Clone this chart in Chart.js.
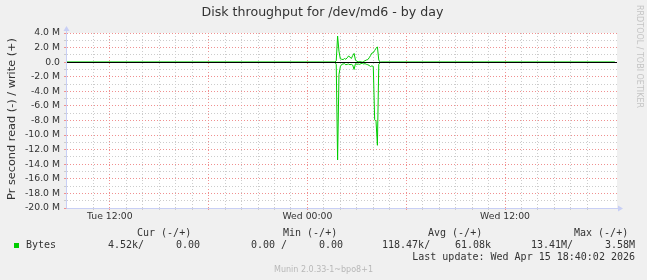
<!DOCTYPE html>
<html>
<head>
<meta charset="utf-8">
<script src="https://cdn.jsdelivr.net/npm/chart.js@4.4.1/dist/chart.umd.min.js"></script>
<style>
  html, body { margin: 0; padding: 0; background: #f0f0f0; }
  #chart { display: block; }
</style>
</head>
<body>
<canvas id="chart" width="647" height="280"></canvas>
<script>
// samples, minutes relative to Wed 00:00 (5 min steps around the burst)
const sampleMinutes = [-876, 100, 105, 110, 115, 120, 125, 130, 135, 140, 145, 150, 155, 160, 165, 170, 175, 180, 185, 190, 195, 200, 205, 210, 215, 220, 225, 230, 235, 240, 245, 250, 255, 260, 265, 270, 1120]
// bytes per second, in M
const writeMB = [0, 0, 0.2, 3.58, 1.5, 0.45, 0.4, 0.35, 0.5, 0.4, 0.6, 0.85, 0.7, 0.5, 0.9, 1.2, 0.3, 0.1, 0.05, 0.1, 0.05, 0, 0.1, 0.2, 0.3, 0.35, 0.6, 0.9, 1.25, 1.3, 1.6, 1.9, 2.1, 0.3, 0, 0, 0]
const readMB = [0, 0, -0.3, -13.41, -1.7, -0.6, -0.3, -0.25, -0.2, -0.35, -0.3, -0.25, -0.35, -0.3, -0.4, -1.0, -0.2, -0.3, -0.25, -0.3, -0.2, -0.15, -0.25, -0.2, -0.3, -0.35, -0.45, -0.6, -0.5, -0.6, -7.9, -8.1, -11.4, -0.3, -0.05, 0, 0]

const xTickHours = [-12, 0, 12]
const xTickLabels = ['Tue 12:00', 'Wed 00:00', 'Wed 12:00']

const statHeaders = ['Cur (-/+)', 'Min (-/+)', 'Avg (-/+)', 'Max (-/+)']
const statValues = ['4.52k/', '0.00', '0.00 /', '0.00', '118.47k/', '61.08k', '13.41M/', '3.58M']
const seriesName = 'Bytes'
const lastUpdate = 'Last update: Wed Apr 15 18:40:02 2026'

const GREEN = '#00cc00'
const AXIS = '#c8cff5'
const GRID_MINOR = '#cccccc'
const GRID_MAJOR = '#f09090'

const toPoints = (values) => sampleMinutes.map((m, i) => ({ x: m / 60, y: values[i] * 1e6 }))

const muninPlugin = {
  id: 'munin',
  beforeDraw(chart) {
    const { ctx, chartArea: a } = chart
    ctx.save()
    ctx.fillStyle = '#f0f0f0'
    ctx.fillRect(0, 0, chart.width, chart.height)
    ctx.fillStyle = '#ffffff'
    ctx.fillRect(a.left, a.top, a.right - a.left, a.bottom - a.top)
    ctx.restore()
  },
  afterDatasetsDraw(chart) {
    const { ctx, chartArea: a, scales } = chart
    const y0 = Math.round(scales.y.getPixelForValue(0)) + 0.5
    ctx.save()
    // zero rule
    ctx.strokeStyle = '#000000'
    ctx.lineWidth = 1
    ctx.beginPath()
    ctx.moveTo(a.left, y0)
    ctx.lineTo(a.right, y0)
    ctx.stroke()
    // axes with arrows
    const xl = Math.round(a.left) - 0.5
    const yb = Math.round(a.bottom) + 0.5
    ctx.strokeStyle = AXIS
    ctx.beginPath()
    ctx.moveTo(xl, yb)
    ctx.lineTo(xl, a.top - 4)
    ctx.moveTo(xl, yb)
    ctx.lineTo(a.right + 3, yb)
    ctx.stroke()
    ctx.fillStyle = AXIS
    ctx.beginPath()
    ctx.moveTo(xl - 3, a.top - 2)
    ctx.lineTo(xl + 3, a.top - 2)
    ctx.lineTo(xl, a.top - 7)
    ctx.closePath()
    ctx.fill()
    ctx.beginPath()
    ctx.moveTo(a.right + 1, yb - 3)
    ctx.lineTo(a.right + 1, yb + 3)
    ctx.lineTo(a.right + 6, yb)
    ctx.closePath()
    ctx.fill()
    ctx.restore()
  },
  afterDraw(chart) {
    const { ctx } = chart
    ctx.save()
    ctx.textBaseline = 'middle'
    // title
    ctx.fillStyle = '#333'
    ctx.font = '12.6px "DejaVu Sans"'
    ctx.textAlign = 'center'
    ctx.fillText('Disk throughput for /dev/md6 - by day', 322.5, 13)
    // y title
    ctx.save()
    ctx.translate(12, 119)
    ctx.rotate(-Math.PI / 2)
    ctx.font = '11.3px "DejaVu Sans"'
    ctx.fillText('Pr second read (-) / write (+)', 0, 0)
    ctx.restore()
    // watermark
    ctx.save()
    ctx.translate(639, 56.5)
    ctx.rotate(Math.PI / 2)
    ctx.fillStyle = '#c4c4c4'
    ctx.font = '8px "DejaVu Sans"'
    ctx.fillText('RRDTOOL / TOBI OETIKER', 0, 0)
    ctx.restore()
    // legend
    ctx.fillStyle = '#333'
    ctx.font = '10px "DejaVu Sans Mono"'
    ctx.textAlign = 'left'
    const headerX = [137, 283, 428, 574]
    statHeaders.forEach((h, i) => ctx.fillText(h, headerX[i], 233.5))
    const valueX = [108, 176, 251, 319, 382, 455, 531, 605]
    statValues.forEach((v, i) => ctx.fillText(v, valueX[i], 245.5))
    ctx.fillText(seriesName, 26, 245.5)
    ctx.fillStyle = GREEN
    ctx.fillRect(14, 243, 5, 5)
    ctx.fillStyle = '#333'
    ctx.textAlign = 'right'
    ctx.fillText(lastUpdate, 635, 257.5)
    ctx.textAlign = 'center'
    ctx.fillStyle = '#b8b8b8'
    ctx.font = '8px "DejaVu Sans"'
    ctx.fillText('Munin 2.0.33-1~bpo8+1', 323.5, 270)
    ctx.restore()
  }
}

new Chart(document.getElementById('chart'), {
  type: 'line',
  data: {
    datasets: [
      {
        label: 'write',
        data: toPoints(writeMB),
        borderColor: GREEN,
        borderWidth: 1,
        pointRadius: 0,
        tension: 0,
        fill: false
      },
      {
        label: 'read',
        data: toPoints(readMB),
        borderColor: GREEN,
        borderWidth: 1,
        pointRadius: 0,
        tension: 0,
        fill: false
      }
    ]
  },
  options: {
    responsive: false,
    animation: false,
    layout: { padding: { left: 0, right: 30, top: 33, bottom: 0 } },
    plugins: { legend: { display: false }, tooltip: { enabled: false } },
    scales: {
      x: {
        type: 'linear',
        min: -14.6,
        max: 18.8,
        afterFit: (scale) => { scale.height = 72 },
        border: { display: false, dash: [1, 2] },
        grid: {
          color: (c) => {
            const v = c.tick.value
            if (Math.abs(v - Math.round(v)) > 1e-6) return 'transparent'
            return Math.round(v) % 6 === 0 ? GRID_MAJOR : GRID_MINOR
          },
          tickLength: 2
        },
        ticks: {
          stepSize: 1,
          autoSkip: false,
          maxRotation: 0,
          padding: 1,
          color: '#333',
          font: { family: 'DejaVu Sans', size: 9.3 },
          callback: (v) => {
            const i = xTickHours.indexOf(Math.round(v * 1000) / 1000)
            return i >= 0 ? xTickLabels[i] : ''
          }
        }
      },
      y: {
        min: -20e6,
        max: 4e6,
        afterFit: (scale) => { scale.width = 67 },
        border: { display: false, dash: [1, 2] },
        grid: {
          color: (c) => (Math.round(c.tick.value / 1e6) % 2 === 0 ? GRID_MAJOR : GRID_MINOR),
          tickLength: 3
        },
        ticks: {
          stepSize: 1e6,
          autoSkip: false,
          padding: 4,
          color: '#333',
          font: { family: 'DejaVu Sans', size: 9.3 },
          callback: (v) => {
            const m = Math.round(v / 1e6)
            if (m % 2 !== 0) return ''
            return m === 0 ? '0.0' : m.toFixed(1) + ' M'
          }
        }
      }
    }
  },
  plugins: [muninPlugin]
})
</script>
</body>
</html>
